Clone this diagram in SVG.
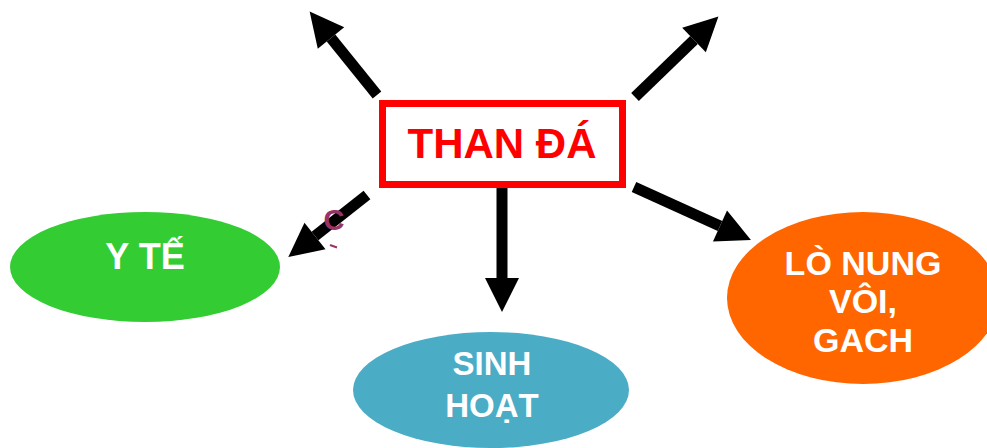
<svg xmlns="http://www.w3.org/2000/svg" width="987" height="448" viewBox="0 0 987 448">
  <style>
    .lbl { font-family: "Liberation Sans", Arial, sans-serif; font-weight: bold; fill: #ffffff; text-anchor: middle; }
    .shaft { stroke: #000000; stroke-width: 11; fill: none; marker-end: url(#head); }
  </style>
  <defs>
    <marker id="head" viewBox="0 0 10 10" refX="0" refY="5" markerUnits="userSpaceOnUse" markerWidth="34" markerHeight="37" orient="auto" overflow="visible">
      <path d="M0,0 L10,5 L0,10 z" fill="#000000"/>
    </marker>
  </defs>

  <rect width="987" height="448" fill="#ffffff"/>

  <!-- connectors radiating from the central box -->
  <g id="connectors">
    <line class="shaft" x1="377" y1="95" x2="331" y2="38"/>
    <line class="shaft" x1="635" y1="97" x2="694" y2="40"/>
    <line class="shaft" x1="367" y1="195" x2="315" y2="236"/>
    <line class="shaft" x1="502" y1="188" x2="502" y2="278"/>
    <line class="shaft" x1="634" y1="187" x2="720" y2="226"/>
  </g>

  <g id="than-da">
    <rect x="382.5" y="103.5" width="240" height="81" fill="#ffffff" stroke="#ff0000" stroke-width="7"/>
    <text x="502" y="158" font-family="Liberation Sans, Arial, sans-serif" font-weight="bold" font-size="42" fill="#ff0000" text-anchor="middle">THAN ĐÁ</text>
  </g>

  <g id="y-te">
    <ellipse cx="145" cy="267" rx="135" ry="55" fill="#33cc33"/>
    <text class="lbl" x="145" y="269" font-size="36">Y TẾ</text>
  </g>

  <g id="sinh-hoat">
    <ellipse cx="491" cy="390" rx="138" ry="58" fill="#4bacc6"/>
    <text class="lbl" x="492" y="375" font-size="33">SINH</text>
    <text class="lbl" x="492" y="417" font-size="33">HOẠT</text>
  </g>

  <g id="lo-nung">
    <ellipse cx="863" cy="298" rx="136" ry="86" fill="#ff6600"/>
    <text class="lbl" x="863" y="275" font-size="34">LÒ NUNG</text>
    <text class="lbl" x="863" y="313" font-size="34">VÔI,</text>
    <text class="lbl" x="863" y="352" font-size="34">GACH</text>
  </g>

  <!-- stray label fragment beside the lower-left arrow -->
  <g id="fragment">
    <text x="334" y="230" font-family="Liberation Sans, Arial, sans-serif" font-weight="bold" font-size="29" fill="#993366" text-anchor="middle">C</text>
    <path d="M330,245 L337,247.5" stroke="#993366" stroke-width="2" fill="none"/>
  </g>
</svg>
